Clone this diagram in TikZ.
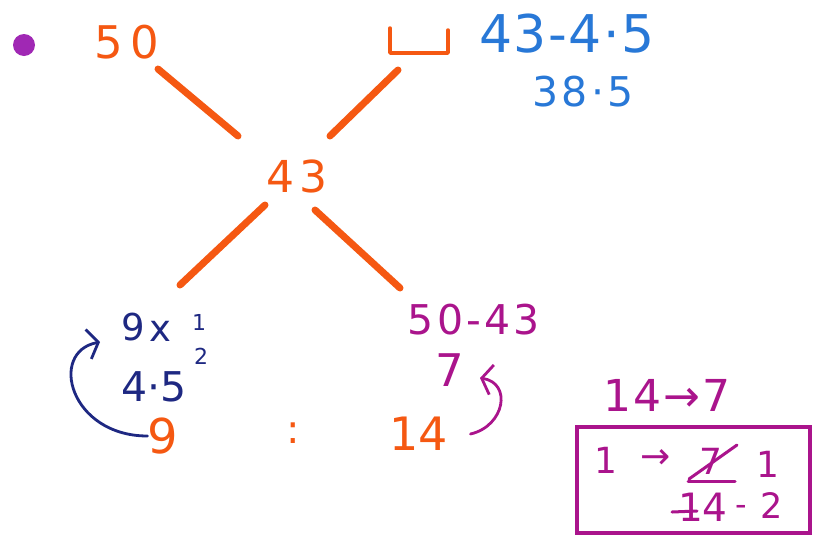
\documentclass[tikz,border=0pt]{standalone}
\usepackage{fontspec}
\setmainfont{DejaVu Sans}
\usetikzlibrary{arrows.meta}
\definecolor{org}{RGB}{245,88,18}
\definecolor{lblue}{RGB}{40,120,215}
\definecolor{dblue}{RGB}{30,40,130}
\definecolor{mag}{RGB}{170,20,140}
\definecolor{dotc}{RGB}{160,40,180}
\newcommand\fs[2]{\fontsize{#1}{#1}\selectfont\addfontfeature{LetterSpace=#2}}
\begin{document}
\begin{tikzpicture}[x=1pt,y=-1pt,
  txt/.style={inner sep=0pt},
  arm/.style={line width=7pt, draw=org, line cap=round},
  curl/.style={line width=2.8pt, line cap=round, -{Straight Barb[length=10pt,width=30pt,line width=2.8pt]}},
  thinmark/.style={line width=3pt, line cap=round}]
\useasboundingbox (0,0) rectangle (814,539);
\fill[white] (0,0) rectangle (814,539);
% dot
\fill[dotc] (24,45) circle (11);
% top numbers
\node[txt, text=org, font=\fs{45}{15}] (n50) at (127,42) {50};
\node[txt, text=org, font=\fs{44}{10}] (n43) at (297,176) {43};
\coordinate (cup) at (419,41);
\draw[org, line width=3.5pt, line cap=round, line join=round]
  ([shift={(-29,-13)}]cup) -- ([shift={(-29,12)}]cup) -- ([shift={(29,12)}]cup) -- ([shift={(29,-11)}]cup);
\node[txt, text=lblue, font=\fs{52}{3}] (sub) at (567,34) {43-4·5};
\node[txt, text=lblue, font=\fs{41}{8}] (res) at (583,92) {38·5};
% arms of X
\coordinate (ul1) at (158,69); \coordinate (ul2) at (238,136);
\coordinate (ur1) at (398,70); \coordinate (ur2) at (330,136);
\coordinate (ll1) at (265,205); \coordinate (ll2) at (180,285);
\coordinate (lr1) at (315,210); \coordinate (lr2) at (400,288);
\draw[arm] (ul1) -- (ul2);
\draw[arm] (ur1) -- (ur2);
\draw[arm] (ll1) -- (ll2);
\draw[arm] (lr1) -- (lr2);
% lower left calculations
\node[txt, text=dblue, font=\fs{37}{0}] (n9) at (133,327) {9};
\node[txt, text=dblue, font=\fs{37}{0}] (nx) at (160,331) {x};
\node[txt, text=dblue, font=\fs{22}{0}] (f1) at (199,322) {1};
\node[txt, text=dblue, font=\fs{22}{0}] (f2) at (201,356) {2};
\node[txt, text=dblue, font=\fs{41}{0}] (n45) at (154,387) {4·5};
% ratio line
\node[txt, text=org, font=\fs{48}{0}] (o9) at (163,436) {9};
\node[txt, text=org, font=\fs{40}{0}] (col) at (293,433) {:};
\node[txt, text=org, font=\fs{46}{0}] (o14) at (419,434) {14};
% lower right calculations
\node[txt, text=mag, font=\fs{41}{8}] (diff) at (474,320) {50-43};
\node[txt, text=mag, font=\fs{45}{0}] (n7) at (450,370) {7};
% curved arrows
\coordinate (bt) at (100,342);
\draw[dblue, curl] (o9.west) .. controls (70,436) and (48,352) .. (bt);
\coordinate (mt) at (480,378);
\draw[mag, curl] ([xshift=22pt]o14.east) .. controls (505,426) and (512,383) .. (mt);
% box area
\node[txt, text=mag, font=\fs{44}{4}] (rule) at (667,395) {14→7};
\node[draw=mag, line width=3.5pt, minimum width=233pt, minimum height=106pt, inner sep=0pt] (box) at (693.5,480) {};
\node[txt, text=mag, font=\fs{36}{0}] (b1) at (606,460) {1};
\node[txt, text=mag, font=\fs{36}{0}] (barr) at (656,459) {→};
\node[txt, text=mag, font=\fs{36}{0}] (b7) at (711,461) {7};
\node[txt, text=mag, font=\fs{36}{0}] (bh1) at (768,464) {1};
\node[txt, text=mag, font=\fs{39}{0}] (b14) at (703,507) {14};
\node[txt, text=mag, font=\fs{32}{0}] (bdash) at (741,510) {-};
\node[txt, text=mag, font=\fs{35}{0}] (b2) at (772,506) {2};
\draw[mag, thinmark] ([shift={(-22,18)}]b7.center) -- ([shift={(26,-16)}]b7.center);
\draw[mag, thinmark] ([shift={(-23,20)}]b7.center) -- ([shift={(24,20)}]b7.center);
\draw[mag, thinmark] ([shift={(-31,5)}]b14.center) -- ([shift={(-6,4)}]b14.center);
\end{tikzpicture}
\end{document}
